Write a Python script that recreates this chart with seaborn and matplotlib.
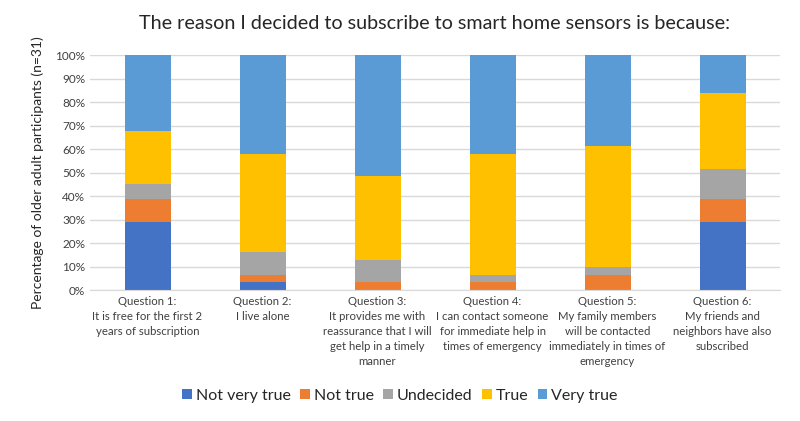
import matplotlib
matplotlib.use("Agg")

import matplotlib.pyplot as plt
import seaborn as sns
import pandas as pd
import numpy as np
from matplotlib.ticker import PercentFormatter

sns.set_style("white")
plt.rcParams["font.family"] = ["Lato", "DejaVu Sans"]

N = 31

questions = [
    "Question 1:\nIt is free for the first 2\nyears of subscription",
    "Question 2:\nI live alone",
    "Question 3:\nIt provides me with\nreassurance that I will\nget help in a timely\nmanner",
    "Question 4:\nI can contact someone\nfor immediate help in\ntimes of emergency",
    "Question 5:\nMy family members\nwill be contacted\nimmediately in times of\nemergency",
    "Question 6:\nMy friends and\nneighbors have also\nsubscribed",
]

responses = ["Not very true", "Not true", "Undecided", "True", "Very true"]
colors = ["#4472C4", "#ED7D31", "#A5A5A5", "#FFC000", "#5B9BD5"]

# counts of participants (n=31) per answer
not_very_true = [9, 1, 0, 0, 0, 9]
not_true = [3, 1, 1, 1, 2, 3]
undecided = [2, 3, 3, 1, 1, 4]
true_ = [7, 13, 11, 16, 16, 10]
very_true = [10, 13, 16, 13, 12, 5]

counts = pd.DataFrame(
    {
        "Not very true": not_very_true,
        "Not true": not_true,
        "Undecided": undecided,
        "True": true_,
        "Very true": very_true,
    },
    index=questions,
)
pct = counts / N * 100

fig = plt.figure(figsize=(8, 4.21), dpi=100)
ax = fig.add_axes([0.1125, 0.311, 0.8625, 0.558])

bottom = np.zeros(len(questions))
for resp, col in zip(responses, colors):
    sns.barplot(
        x=questions,
        y=pct[resp].values,
        color=col,
        bottom=bottom,
        width=0.4,
        label=resp,
        ax=ax,
        linewidth=0,
        saturation=1,
    )
    bottom += pct[resp].values

if ax.get_legend() is not None:
    ax.get_legend().remove()

ax.set_ylim(0, 100)
ax.set_yticks(np.arange(0, 101, 10))
ax.yaxis.set_major_formatter(PercentFormatter(decimals=0))
ax.set_xlim(-0.5, len(questions) - 0.5)
ax.grid(axis="y", color="#D9D9D9", linewidth=1)
ax.set_axisbelow(True)
for s in ["top", "right", "left"]:
    ax.spines[s].set_visible(False)
ax.spines["bottom"].set_color("#D9D9D9")
ax.tick_params(axis="both", length=0, labelsize=8.5, colors="#404040")
ax.tick_params(axis="x", pad=4, labelsize=8.2)
for lbl in ax.get_xticklabels():
    lbl.set_verticalalignment("top")
    lbl.set_linespacing(1.45)

ax.set_ylabel("Percentage of older adult participants (n=31)", fontsize=10,
              color="#262626", labelpad=8)
ax.set_title("The reason I decided to subscribe to smart home sensors is because:",
             fontsize=14.2, color="#262626", pad=19)

handles, labels = ax.get_legend_handles_labels()
fig.legend(handles, labels, loc="center", bbox_to_anchor=(0.5, 0.06), ncol=5,
           frameon=False, fontsize=11.5, handlelength=0.6, handleheight=0.6,
           handletextpad=0.25, columnspacing=0.6)

fig.savefig("out.png", dpi=100)
plt.close(fig)
